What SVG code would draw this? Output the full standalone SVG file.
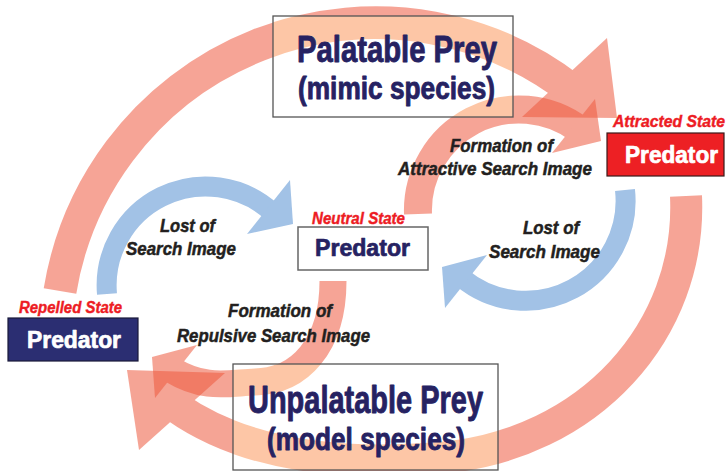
<svg xmlns="http://www.w3.org/2000/svg" xmlns:xlink="http://www.w3.org/1999/xlink" width="728" height="471" viewBox="0 0 728 471">
<style>
.band{fill:none;stroke:currentColor;stroke-linecap:butt}
.head{fill:currentColor;stroke:none}
.title{font-family:"Liberation Sans Narrow","Liberation Sans",Arial,sans-serif;font-weight:bold;fill:#262262;stroke:#262262;stroke-width:0.9px;stroke-linejoin:round}
.pred{font-family:"Liberation Sans Narrow","Liberation Sans",Arial,sans-serif;font-weight:bold;font-size:23px;stroke-width:0.7px;stroke-linejoin:round}
.state{font-family:"Liberation Sans Narrow","Liberation Sans",Arial,sans-serif;font-weight:bold;font-style:italic;font-size:16px;fill:#ed1c24;stroke:#ed1c24;stroke-width:0.4px}
.lbl{font-family:"Liberation Sans Narrow","Liberation Sans",Arial,sans-serif;font-weight:bold;font-style:italic;font-size:19px;fill:#231f20;stroke:#231f20;stroke-width:0.5px}
.salmon{color:#ee5a3f;opacity:0.55}
.peach{color:#fb975d;opacity:0.55}
.blue{color:#a2c2e6}
.preybox{fill:none;stroke:#555;stroke-width:1.3}
</style>
<defs>
<g id="arrow-top"><path class="band" stroke-width="33" d="M60,291 A320,320 0 0 1 572,90"/><polygon class="head" points="607,38 617,118 522,117"/></g>
<g id="arrow-attr"><path class="band" stroke-width="28" d="M418,214 A101,101 0 0 1 580,130"/><polygon class="head" points="595,99 601,141 552,153"/></g>
<g id="arrow-bottom"><path class="band" stroke-width="32" d="M686,196 C692,330 590,445 440,458 C330,467 240,452 176,407"/><polygon class="head" points="127,370 225,373 139,450"/></g>
<g id="arrow-rep"><path class="band" stroke-width="27" d="M333,281 C333,345 300,381 255,382 C228,383 205,390 172,370"/><polygon class="head" points="197,345 152,357 155,398"/></g>
<clipPath id="clip-top"><rect x="273" y="16" width="240" height="101"/></clipPath>
<clipPath id="clip-bottom"><rect x="233" y="364" width="265" height="106"/></clipPath>
</defs>
<rect width="728" height="471" fill="#fff"/>
<g id="connectors">
<use xlink:href="#arrow-top" class="salmon"/>
<use xlink:href="#arrow-attr" class="salmon"/>
<use xlink:href="#arrow-bottom" class="salmon"/>
<use xlink:href="#arrow-rep" class="salmon"/>
<g id="arrow-lost-left" class="blue"><path class="band" stroke-width="20" d="M107,294 A99,99 0 0 1 272,212"/><polygon class="head" points="290,180 293,224 247,234"/></g>
<g id="arrow-lost-right" class="blue"><path class="band" stroke-width="20" d="M625,190 A100,100 0 0 1 462,278"/><polygon class="head" points="487,255 442,267 445,308"/></g>
</g>
<g id="palatable-prey">
<rect x="273" y="16" width="240" height="101" fill="#fff"/>
<g clip-path="url(#clip-top)"><use xlink:href="#arrow-top" class="peach"/><use xlink:href="#arrow-attr" class="peach"/></g>
<rect x="273" y="16" width="240" height="101" class="preybox"/>
<text class="title" x="297" y="62" font-size="37" textLength="200" lengthAdjust="spacingAndGlyphs">Palatable Prey</text>
<text class="title" x="298" y="99" font-size="32" textLength="197" lengthAdjust="spacingAndGlyphs">(mimic species)</text>
</g>
<g id="unpalatable-prey">
<rect x="233" y="364" width="265" height="106" fill="#fff"/>
<g clip-path="url(#clip-bottom)"><use xlink:href="#arrow-bottom" class="peach"/><use xlink:href="#arrow-rep" class="peach"/></g>
<rect x="233" y="364" width="265" height="106" class="preybox"/>
<text class="title" x="248" y="413" font-size="38" textLength="235" lengthAdjust="spacingAndGlyphs">Unpalatable Prey</text>
<text class="title" x="267" y="450" font-size="32" textLength="198" lengthAdjust="spacingAndGlyphs">(model species)</text>
</g>
<g id="predator-neutral">
<text class="state" x="312" y="224" textLength="93" lengthAdjust="spacingAndGlyphs">Neutral State</text>
<rect x="298" y="227" width="130" height="43" fill="#fff" stroke="#666" stroke-width="1.5"/>
<text class="pred" x="315" y="256" fill="#262262" stroke="#262262" textLength="95" lengthAdjust="spacingAndGlyphs">Predator</text>
</g>
<g id="predator-repelled">
<text class="state" x="19" y="313" textLength="103" lengthAdjust="spacingAndGlyphs">Repelled State</text>
<rect x="8" y="318" width="130" height="43" fill="#2b2e72" stroke="#1a1a3a" stroke-width="1.2"/>
<text class="pred" x="27" y="348" fill="#fff" stroke="#fff" textLength="94" lengthAdjust="spacingAndGlyphs">Predator</text>
</g>
<g id="predator-attracted">
<text class="state" x="613" y="127" textLength="112" lengthAdjust="spacingAndGlyphs">Attracted State</text>
<rect x="607" y="133" width="117" height="43" fill="#ed2024" stroke="#3a1a1a" stroke-width="1.2"/>
<text class="pred" x="625" y="163" fill="#fff" stroke="#fff" textLength="93" lengthAdjust="spacingAndGlyphs">Predator</text>
</g>
<g id="labels">
<text class="lbl" x="160" y="232" textLength="55" lengthAdjust="spacingAndGlyphs">Lost of</text>
<text class="lbl" x="126" y="255" textLength="110" lengthAdjust="spacingAndGlyphs">Search Image</text>
<text class="lbl" x="523" y="234" textLength="56" lengthAdjust="spacingAndGlyphs">Lost of</text>
<text class="lbl" x="489" y="258" textLength="111" lengthAdjust="spacingAndGlyphs">Search Image</text>
<text class="lbl" x="450" y="152" textLength="103" lengthAdjust="spacingAndGlyphs">Formation of</text>
<text class="lbl" x="398" y="175" textLength="194" lengthAdjust="spacingAndGlyphs">Attractive Search Image</text>
<text class="lbl" x="228" y="317" textLength="104" lengthAdjust="spacingAndGlyphs">Formation of</text>
<text class="lbl" x="177" y="342" textLength="193" lengthAdjust="spacingAndGlyphs">Repulsive Search Image</text>
</g>
</svg>
